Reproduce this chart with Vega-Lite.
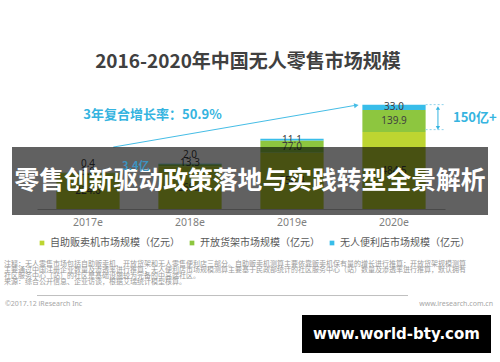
{
  "$schema": "https://vega.github.io/schema/vega-lite/v6.json",
  "width": 408,
  "height": 127,
  "autosize": "none",
  "padding": {"left": 37, "top": 82, "right": 55, "bottom": 153},
  "background": "white",
  "config": {"view": {"stroke": null}, "font": "Noto Sans CJK SC"},
  "title": {"text": "2016-2020年中国无人零售市场规模", "fontSize": 19, "fontWeight": "bold", "color": "#404040", "font": "Noto Sans CJK SC", "anchor": "middle", "offset": 10, "dx": 7},
  "data": {"values": [
    {"year": "2017e", "series": "自助贩卖机市场规模（亿元）", "rank": 1, "value": 224.6},
    {"year": "2017e", "series": "开放货架市场规模（亿元）", "rank": 2, "value": 3.0},
    {"year": "2017e", "series": "无人便利店市场规模（亿元）", "rank": 3, "value": 0.4},
    {"year": "2018e", "series": "自助贩卖机市场规模（亿元）", "rank": 1, "value": 269.2},
    {"year": "2018e", "series": "开放货架市场规模（亿元）", "rank": 2, "value": 13.3},
    {"year": "2018e", "series": "无人便利店市场规模（亿元）", "rank": 3, "value": 2.0},
    {"year": "2019e", "series": "自助贩卖机市场规模（亿元）", "rank": 1, "value": 354.4},
    {"year": "2019e", "series": "开放货架市场规模（亿元）", "rank": 2, "value": 77.0},
    {"year": "2019e", "series": "无人便利店市场规模（亿元）", "rank": 3, "value": 11.1},
    {"year": "2020e", "series": "自助贩卖机市场规模（亿元）", "rank": 1, "value": 484.5},
    {"year": "2020e", "series": "开放货架市场规模（亿元）", "rank": 2, "value": 139.9},
    {"year": "2020e", "series": "无人便利店市场规模（亿元）", "rank": 3, "value": 33.0}
  ]},
  "layer": [
    {
      "mark": {"type": "bar"},
      "encoding": {
        "x": {"field": "year", "type": "nominal", "scale": {"domain": ["2017e", "2018e", "2019e", "2020e"], "paddingInner": 0.38, "paddingOuter": 0.19},
              "axis": {"title": null, "ticks": false, "labelPadding": 8, "labelColor": "#7f7f7f", "labelFontSize": 10.5, "labelFont": "Noto Sans", "labelAngle": 0, "domainColor": "#bfbfbf"}},
        "y": {"field": "value", "type": "quantitative", "stack": "zero", "scale": {"domain": [0, 800], "nice": false}, "axis": null},
        "color": {"field": "series", "type": "nominal",
                  "scale": {"domain": ["自助贩卖机市场规模（亿元）", "开放货架市场规模（亿元）", "无人便利店市场规模（亿元）"], "range": ["#bdd531", "#8dc63f", "#38bde9"]},
                  "legend": {"orient": "none", "legendX": 0, "legendY": 156, "direction": "horizontal", "columns": 3, "title": null, "symbolType": "square", "symbolSize": 22, "symbolStrokeWidth": 0, "labelFontSize": 10, "labelColor": "#595959", "columnPadding": 7, "labelOffset": 3, "labelFont": "Noto Sans CJK SC"}},
        "order": {"field": "rank", "type": "quantitative", "sort": "ascending"}
      }
    },
    {
      "transform": [
        {"stack": "value", "groupby": ["year"], "sort": [{"field": "rank", "order": "ascending"}], "as": ["s0", "s1"]},
        {"filter": "datum.rank == 1 || datum.year == '2019e' || datum.year == '2020e'"},
        {"fold": ["s0", "s1"], "as": ["edge", "pos"]},
        {"aggregate": [{"op": "mean", "field": "pos", "as": "mid"}], "groupby": ["year", "series", "value"]}
      ],
      "mark": {"type": "text", "fontSize": 10, "color": "#404040", "font": "Noto Sans", "baseline": "middle"},
      "encoding": {
        "x": {"field": "year", "type": "nominal"},
        "y": {"field": "mid", "type": "quantitative"},
        "text": {"field": "value", "type": "quantitative", "format": ".1f"}
      }
    },
    {
      "transform": [
        {"stack": "value", "groupby": ["year"], "sort": [{"field": "rank", "order": "ascending"}], "as": ["s0", "s1"]},
        {"filter": "datum.rank == 3 && (datum.year == '2017e' || datum.year == '2018e')"}
      ],
      "mark": {"type": "text", "fontSize": 10, "color": "#404040", "font": "Noto Sans", "baseline": "middle", "dy": -9},
      "encoding": {
        "x": {"field": "year", "type": "nominal"},
        "y": {"field": "s1", "type": "quantitative"},
        "text": {"field": "value", "type": "quantitative", "format": ".1f"}
      }
    },
    {
      "transform": [
        {"stack": "value", "groupby": ["year"], "sort": [{"field": "rank", "order": "ascending"}], "as": ["s0", "s1"]},
        {"filter": "datum.rank == 2 && (datum.year == '2017e' || datum.year == '2018e')"}
      ],
      "mark": {"type": "text", "fontSize": 10, "color": "#404040", "font": "Noto Sans", "baseline": "middle", "dy": -1},
      "encoding": {
        "x": {"field": "year", "type": "nominal"},
        "y": {"field": "s1", "type": "quantitative"},
        "text": {"field": "value", "type": "quantitative", "format": ".1f"}
      }
    },
    {
      "data": {"values": [{}]},
      "mark": {"type": "rule", "color": "#45bde6", "strokeWidth": 1, "x2Offset": -7},
      "encoding": {
        "x": {"datum": "2017e", "type": "nominal", "bandPosition": 0.9},
        "x2": {"datum": "2020e", "bandPosition": 0},
        "y": {"datum": 390, "type": "quantitative"},
        "y2": {"datum": 653}
      }
    },
    {
      "data": {"values": [{}]},
      "mark": {"type": "point", "shape": "triangle-right", "filled": true, "color": "#45bde6", "size": 28, "angle": -10, "xOffset": -6, "opacity": 1},
      "encoding": {
        "x": {"datum": "2020e", "type": "nominal", "bandPosition": 0},
        "y": {"datum": 653, "type": "quantitative"}
      }
    },
    {
      "data": {"values": [{}]},
      "mark": {"type": "text", "text": "3年复合增长率：50.9%", "fontSize": 13, "fontWeight": "bold", "color": "#35b4e0", "align": "center", "baseline": "middle"},
      "encoding": {
        "x": {"datum": "2017e", "type": "nominal", "bandPosition": 1.52},
        "y": {"datum": 592, "type": "quantitative"}
      }
    },
    {
      "data": {"values": [{}]},
      "mark": {"type": "rule", "color": "#8fd3ec", "strokeWidth": 1, "strokeDash": [2, 2]},
      "encoding": {
        "x": {"datum": "2020e", "type": "nominal", "bandPosition": 1.0},
        "x2": {"datum": "2020e", "bandPosition": 1.3},
        "y": {"datum": 657.4, "type": "quantitative"}
      }
    },
    {
      "data": {"values": [{}]},
      "mark": {"type": "rule", "color": "#8fd3ec", "strokeWidth": 1, "strokeDash": [2, 2]},
      "encoding": {
        "x": {"datum": "2020e", "type": "nominal", "bandPosition": 1.0},
        "x2": {"datum": "2020e", "bandPosition": 1.3},
        "y": {"datum": 500, "type": "quantitative"}
      }
    },
    {
      "data": {"values": [{}]},
      "mark": {"type": "rule", "color": "#35b4e0", "strokeWidth": 1},
      "encoding": {
        "x": {"datum": "2020e", "type": "nominal", "bandPosition": 1.195},
        "y": {"datum": 632, "type": "quantitative"},
        "y2": {"datum": 515}
      }
    },
    {
      "data": {"values": [{}]},
      "mark": {"type": "point", "shape": "triangle-up", "filled": true, "color": "#35b4e0", "size": 18, "opacity": 1},
      "encoding": {
        "x": {"datum": "2020e", "type": "nominal", "bandPosition": 1.195},
        "y": {"datum": 636, "type": "quantitative"}
      }
    },
    {
      "data": {"values": [{}]},
      "mark": {"type": "point", "shape": "triangle-down", "filled": true, "color": "#35b4e0", "size": 18, "opacity": 1},
      "encoding": {
        "x": {"datum": "2020e", "type": "nominal", "bandPosition": 1.195},
        "y": {"datum": 511, "type": "quantitative"}
      }
    },
    {
      "data": {"values": [{}]},
      "mark": {"type": "text", "text": "150亿+", "fontSize": 13, "fontWeight": "bold", "color": "#35b4e0", "align": "left", "baseline": "middle"},
      "encoding": {
        "x": {"datum": "2020e", "type": "nominal", "bandPosition": 1.433},
        "y": {"datum": 573, "type": "quantitative"}
      }
    },
    {
      "data": {"values": [{}]},
      "mark": {"type": "bar", "color": "#000000", "opacity": 0.62, "width": 476, "xOffset": -42},
      "encoding": {
        "x": {"datum": "2019e", "type": "nominal"},
        "y": {"datum": 390.6, "type": "quantitative"},
        "y2": {"datum": -37.8}
      }
    },
    {
      "data": {"values": [{}]},
      "mark": {"type": "text", "text": "零售创新驱动政策落地与实践转型全景解析", "fontSize": 24.8, "fontWeight": "bold", "color": "#ffffff", "align": "center", "baseline": "middle", "dx": -42, "font": "Noto Sans CJK SC"},
      "encoding": {
        "x": {"datum": "2019e", "type": "nominal"},
        "y": {"datum": 170, "type": "quantitative"}
      }
    },
    {
      "data": {"values": [{}]},
      "mark": {"type": "text", "text": "3.4亿", "fontSize": 11, "fontWeight": "bold", "color": "#3d93c0", "align": "left", "baseline": "middle"},
      "encoding": {
        "x": {"datum": "2017e", "type": "nominal", "bandPosition": 1.037},
        "y": {"datum": 265, "type": "quantitative"}
      }
    },
    {
      "data": {"values": [{}]},
      "mark": {"type": "rule", "color": "#bfbfbf", "strokeWidth": 1, "xOffset": -37, "x2Offset": 40},
      "encoding": {
        "y": {"datum": -545, "type": "quantitative"}
      }
    },
    {
      "data": {"values": [{}]},
      "mark": {"type": "text", "text": [
        "注释：无人零售市场包括自助贩卖机、开放货架和无人零售便利店三部分。自助贩卖机测算主要依靠贩卖机保有量的增长进行推算；开放货架规模测算",
        "主要通过中国注册企业数量及渗透率进行推算；无人便利店市场规模测算主要基于民政部统计的社区服务中心（站）数量及渗透率进行推算，默认拥有",
        "社区服务中心（站）的社区是基础设施较为完备的中高端社区。",
        "来源：综合公开信息、企业访谈，根据艾瑞统计模型核算。"
      ], "fontSize": 7, "lineHeight": 6.2, "color": "#9a9a9a", "align": "left", "baseline": "top", "dx": -237},
      "encoding": {
        "y": {"datum": -319, "type": "quantitative"}
      }
    },
    {
      "data": {"values": [{}]},
      "mark": {"type": "text", "text": "©2017.12 iResearch Inc", "fontSize": 7, "color": "#a6a6a6", "align": "left", "baseline": "middle", "dx": -236, "font": "Noto Sans"},
      "encoding": {
        "y": {"datum": -598, "type": "quantitative"}
      }
    },
    {
      "data": {"values": [{}]},
      "mark": {"type": "text", "text": "www.iresearch.com.cn", "fontSize": 7, "color": "#a6a6a6", "align": "right", "baseline": "middle", "dx": 252, "font": "Noto Sans"},
      "encoding": {
        "y": {"datum": -598, "type": "quantitative"}
      }
    },
    {
      "data": {"values": [{}]},
      "mark": {"type": "bar", "color": "#000000", "width": 189, "xOffset": 2.5},
      "encoding": {
        "x": {"datum": "2020e", "type": "nominal"},
        "y": {"datum": -667.7, "type": "quantitative"},
        "y2": {"datum": -907}
      }
    },
    {
      "data": {"values": [{}]},
      "mark": {"type": "text", "text": "www.world-bty.com", "fontSize": 15, "fontWeight": "bold", "color": "#ffffff", "align": "center", "baseline": "middle", "dx": 2.5, "font": "DejaVu Sans"},
      "encoding": {
        "x": {"datum": "2020e", "type": "nominal"},
        "y": {"datum": -787, "type": "quantitative"}
      }
    }
  ]
}
